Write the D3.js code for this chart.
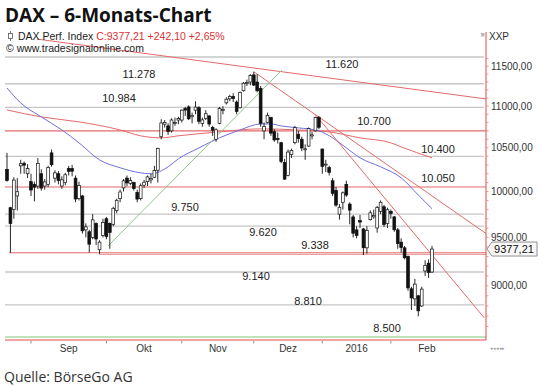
<!DOCTYPE html>
<html>
<head>
<meta charset="utf-8">
<style>
  body { margin: 0; background: #fff; }
  text { font-family: "Liberation Sans", Arial, sans-serif; }
</style>
</head>
<body>
<svg id="chart" width="540" height="386"></svg>

<script src="https://d3js.org/d3.v7.min.js"></script>
<script>
// DAX daily candles, 21 Aug 2015 .. 17 Feb 2016 (trading-day index 0..124)
var opens = [10250,9820,9800,9950,10290,10320,10200,10110,10080,10060,10200,10060,10080,10440,10150,10200,10060,10100,10260,10260,
  10150,9920,9950,9580,9560,9500,9650,9370,9520,9700,9650,9640,9790,9920,10040,10150,10090,10100,9990,9920,
  10070,10110,10130,10160,10240,10630,10780,10760,10700,10790,10830,10830,10970,10990,10870,10950,10980,10790,10850,10880,
  10740,10600,10790,10950,11040,11090,11120,11050,10980,11190,11280,11300,11390,11300,11220,10700,10800,10860,10690,10610,
  10560,10330,10180,10420,10560,10660,10600,10480,10520,10640,10700,10860,10485,10300,10270,10120,10010,9750,9880,10080,
  9860,9720,9580,9680,9590,9390,9690,9720,9600,9780,9830,9650,9780,9720,9580,9450,9390,9300,8970,8870,
  8900,8800,9150,9230,9140];
var highs = [10440,9830,10160,10150,10360,10340,10310,10200,10110,10380,10250,10140,10290,10480,10240,10230,10170,10210,10290,10300,
  10180,10110,9960,9650,9580,9750,9660,9470,9700,9720,9660,9830,9920,10020,10140,10180,10160,10110,10020,10090,
  10130,10180,10200,10290,10500,10840,10830,10790,10850,10860,10870,10960,10990,11010,10920,11060,11000,10860,10950,10890,
  10760,10730,10990,11000,11110,11140,11160,11070,11180,11300,11330,11400,11430,11400,11250,10800,10920,10870,10720,10680,
  10570,10370,10480,10490,10760,10700,10630,10540,10740,10690,10870,10880,10490,10360,10290,10150,10050,9860,10000,10120,
  9880,9740,9620,9740,9600,9620,9790,9800,9840,9900,9850,9820,9800,9730,9600,9490,9410,9310,8990,9070,
  8910,8990,9260,9270,9410];
var lows = [10110,9338,9700,9790,10200,10200,10150,9950,9890,10030,10010,10020,10050,10280,10100,10080,10030,10070,10180,10170,
  9880,9900,9540,9500,9340,9480,9420,9325,9500,9480,9380,9620,9760,9880,10000,10060,10070,10010,9880,9900,
  10040,10060,10090,10150,10100,10600,10740,10650,10680,10760,10780,10800,10880,10830,10790,10900,10780,10750,10830,10750,
  10640,10570,10780,10900,11020,11060,11050,10900,10970,11180,11250,11260,11250,11170,10750,10600,10790,10640,10570,10550,
  10320,10130,10170,10380,10540,10560,10460,10360,10510,10600,10690,10720,10200,10220,10180,9950,9830,9690,9800,9940,
  9640,9500,9490,9600,9314,9330,9680,9700,9550,9750,9610,9600,9700,9560,9380,9340,9270,8950,8760,8800,
  8699,8790,9100,9080,9130];
var closes = [10124,9648,10128,9997,10315,10298,10259,10016,10048,10318,10038,10108,10271,10303,10210,10123,10131,10188,10227,10229,
  9916,10066,9570,9612,9428,9688,9483,9450,9660,9509,9553,9814,9902,9994,10119,10096,10124,10033,9915,10064,
  10104,10164,10147,10238,10492,10795,10801,10692,10831,10800,10850,10950,10951,10845,10887,10988,10815,10832,10907,10782,
  10708,10713,10971,10959,11085,11119,11092,10933,11170,11285,11293,11382,11261,11190,10789,10752,10886,10673,10592,10598,
  10340,10139,10450,10470,10738,10608,10497,10488,10727,10653,10860,10743,10283,10310,10214,9979,9849,9825,9985,9960,
  9794,9545,9521,9664,9391,9574,9764,9736,9822,9880,9639,9798,9757,9581,9434,9393,9286,8979,8879,9017,
  8752,8967,9206,9135,9377.21];

// moving averages
var blueMaIdx = [0, 4, 10, 16, 21, 27, 33, 39, 42, 47, 50, 56, 62, 68, 74, 77, 80, 85, 91, 95, 99, 103, 109, 115, 120, 124];
var blueMaVal = [11225, 11039, 10868, 10711, 10558, 10359, 10268, 10210, 10199, 10279, 10371, 10498, 10617, 10711, 10783, 10783, 10759, 10736, 10700, 10617, 10498, 10383, 10279, 10154, 9960, 9809];
var redMaIdx = [0, 10, 21, 33, 39, 45, 50, 62, 74, 85, 94, 103, 112, 115, 124];
var redMaVal = [10953, 10868, 10808, 10711, 10641, 10617, 10641, 10688, 10724, 10711, 10688, 10617, 10558, 10510, 10383];

// horizontal levels
var grayLevels = [11620, 11278, 10984, 10400, 9750, 9620, 9140, 8810];
var redLevels = [10700, 10050];
var supportLevels = [9338, 9322];
var supportStart = [0.6, 27];
var bottomLevel = 8500;
var labelLevels = [11620, 11278, 10984, 10700, 10400, 10050, 9750, 9620, 9338, 9140, 8810, 8500];

// drawn trend lines [index, value] -> [index, value]
var redTrendFrom = [[8.75, 11855], [72, 11430], [89.9, 10900]];
var redTrendTo = [[139.8, 11088], [139.8, 9540], [139.2, 8685]];
var greenTrendFrom = [29.5, 9410];
var greenTrendTo = [80.2, 11452];

// axes
var monthStarts = [7, 29, 51, 72, 92, 112, 133];
var monthLabels = ["Sep", "Okt", "Nov", "Dez", "2016", "Feb"];
var priceTicks = [9000, 9500, 10000, 10500, 11000, 11500];
var lastPrice = 9377.21;

var de = d3.formatLocale({ decimal: ",", thousands: ".", grouping: [3], currency: ["", "€"] });
var fmtLevel = de.format(",");
var fmtAxis = de.format(".2f");

var svg = d3.select("#chart");
var plotL = 5, plotR = 486, plotT = 30, plotB = 340;

var x = d3.scaleLinear().domain([0, 124]).range([7, 432]);
var y = d3.scaleLog().domain([8500, 11620]).range([337, 57]);

svg.append("clipPath").attr("id", "plot")
  .append("rect").attr("x", plotL).attr("y", plotT).attr("width", plotR - plotL).attr("height", plotB - plotT);

var g = svg.append("g").attr("clip-path", "url(#plot)");

// gray levels
g.selectAll(".gl").data(grayLevels).enter().append("line")
  .attr("x1", plotL).attr("x2", plotR - 2)
  .attr("y1", function (d) { return y(d) }).attr("y2", function (d) { return y(d) })
  .attr("stroke", "#c6c6c6").attr("stroke-width", 1.4);

// red levels
g.selectAll(".rl").data(redLevels).enter().append("line")
  .attr("x1", plotL).attr("x2", plotR)
  .attr("y1", function (d) { return y(d) }).attr("y2", function (d) { return y(d) })
  .attr("stroke", "#e46a6a").attr("stroke-width", 1.1);

g.selectAll(".sl").data(supportLevels).enter().append("line")
  .attr("x1", function (d, i) { return x(supportStart[i]) }).attr("x2", plotR)
  .attr("y1", function (d) { return y(d) }).attr("y2", function (d) { return y(d) })
  .attr("stroke", function (d, i) { return i == 0 ? "#e46a6a" : "#eba0a0" }).attr("stroke-width", 1.1);

// green bottom level
g.append("line")
  .attr("x1", plotL).attr("x2", plotR)
  .attr("y1", y(bottomLevel)).attr("y2", y(bottomLevel))
  .attr("stroke", "#a9d8a9").attr("stroke-width", 1.6);

// moving averages
var maLine = d3.line().curve(d3.curveMonotoneX)
  .x(function (d) { return x(d[0]) }).y(function (d) { return y(d[1]) });
g.append("path").datum(redMaIdx.map(function (d, i) { return [d, redMaVal[i]] }))
  .attr("d", maLine).attr("fill", "none").attr("stroke", "#e46a6a").attr("stroke-width", 1);
g.append("path").datum(blueMaIdx.map(function (d, i) { return [d, blueMaVal[i]] }))
  .attr("d", maLine).attr("fill", "none").attr("stroke", "#6f6fe0").attr("stroke-width", 1);

// trend lines
g.selectAll(".tr").data(redTrendFrom).enter().append("line")
  .attr("x1", function (d) { return x(d[0]) }).attr("y1", function (d) { return y(d[1]) })
  .attr("x2", function (d, i) { return x(redTrendTo[i][0]) }).attr("y2", function (d, i) { return y(redTrendTo[i][1]) })
  .attr("stroke", "#e46a6a").attr("stroke-width", 1);
g.append("line")
  .attr("x1", x(greenTrendFrom[0])).attr("y1", y(greenTrendFrom[1]))
  .attr("x2", x(greenTrendTo[0])).attr("y2", y(greenTrendTo[1]))
  .attr("stroke", "#8cc88c").attr("stroke-width", 1);

// candles
var idx = d3.range(closes.length);
g.selectAll(".wick").data(idx).enter().append("line")
  .attr("x1", function (i) { return x(i) }).attr("x2", function (i) { return x(i) })
  .attr("y1", function (i) { return y(highs[i]) }).attr("y2", function (i) { return y(lows[i]) })
  .attr("stroke", "#111").attr("stroke-width", 0.9);
g.selectAll(".body").data(idx).enter().append("rect")
  .attr("x", function (i) { return x(i) - 1.4 })
  .attr("width", 2.8)
  .attr("y", function (i) { return y(Math.max(opens[i], closes[i])) })
  .attr("height", function (i) { return Math.max(1, Math.abs(y(opens[i]) - y(closes[i]))) })
  .attr("fill", function (i) { return closes[i] >= opens[i] ? "#fff" : "#111" })
  .attr("stroke", "#111").attr("stroke-width", 0.7);

// level labels
var labelX = [342, 139, 119, 374, 438, 438, 185, 263, 315, 256, 308, 387];
var labelDy = [-7, 9, 9, 9, 7, 8, 7, -6, 7, -5, 3, 9];
svg.selectAll(".lv").data(labelLevels).enter().append("text")
  .attr("x", function (d, i) { return labelX[i] })
  .attr("y", function (d, i) { return y(d) - labelDy[i] + 3.5 })
  .attr("text-anchor", "middle").attr("font-size", 11).attr("fill", "#222")
  .text(function (d) { return fmtLevel(d) });

// right axis
svg.append("line").attr("x1", plotR).attr("x2", plotR).attr("y1", 32).attr("y2", plotB)
  .attr("stroke", "#e04848").attr("stroke-width", 1);
svg.selectAll(".mt").data(d3.range(8600, 11700, 100)).enter().append("line")
  .attr("x1", plotR).attr("x2", plotR + 2.5)
  .attr("y1", function (d) { return y(d) }).attr("y2", function (d) { return y(d) })
  .attr("stroke", "#e88080").attr("stroke-width", 0.8);
svg.selectAll(".pt").data(priceTicks).enter().append("text")
  .attr("x", 491).attr("y", function (d) { return y(d) + 3.5 })
  .attr("font-size", 10).attr("fill", "#333")
  .text(function (d) { return fmtAxis(d) });

// last price box
var py = y(lastPrice);
svg.append("path")
  .attr("d", "M487," + py + "L492," + (py - 7) + "L537," + (py - 7) + "L537," + (py + 7) + "L492," + (py + 7) + "Z")
  .attr("fill", "#f7f7f7").attr("stroke", "#777").attr("stroke-width", 0.8);
svg.append("text").attr("x", 514).attr("y", py + 4)
  .attr("text-anchor", "middle").attr("font-size", 11).attr("fill", "#111")
  .text(fmtAxis(lastPrice));

// bottom axis
svg.append("line").attr("x1", plotL).attr("x2", plotR).attr("y1", plotB).attr("y2", plotB)
  .attr("stroke", "#e04848").attr("stroke-width", 1);
svg.selectAll(".xt").data(monthStarts.slice(0, 6)).enter().append("line")
  .attr("x1", function (d) { return x(d) }).attr("x2", function (d) { return x(d) })
  .attr("y1", plotB + 1).attr("y2", plotB + 3.5)
  .attr("stroke", "#888").attr("stroke-width", 1);
svg.selectAll(".xl").data(monthLabels).enter().append("text")
  .attr("x", function (d, i) { return x((monthStarts[i] + monthStarts[i + 1]) / 2) })
  .attr("y", 352).attr("text-anchor", "middle").attr("font-size", 10).attr("fill", "#333")
  .text(function (d) { return d });
svg.append("text").attr("x", 490).attr("y", 350).attr("font-size", 5).attr("fill", "#999").text("◂◂◂◂▸");

// header
svg.append("text").attr("x", 5).attr("y", 22)
  .style("font-family", "'Open Sans', sans-serif").attr("font-weight", 700).attr("font-size", 19).attr("fill", "#111")
  .text("DAX – 6-Monats-Chart");
svg.append("line").attr("x1", 10.5).attr("x2", 10.5).attr("y1", 31).attr("y2", 41).attr("stroke", "#555").attr("stroke-width", 0.8);
svg.append("rect").attr("x", 8.5).attr("y", 33.5).attr("width", 4).attr("height", 5).attr("fill", "#fff").attr("stroke", "#555").attr("stroke-width", 0.8);
var sub = svg.append("text").attr("x", 18).attr("y", 39.5).attr("font-size", 10.5).attr("fill", "#222");
sub.append("tspan").text("DAX Perf. Index ");
sub.append("tspan").attr("fill", "#e03030").text("C:" + fmtAxis(lastPrice) + " +242,10 +2,65%");
svg.append("text").attr("x", 6).attr("y", 51.5).attr("font-size", 10.5).attr("fill", "#222")
  .text("© www.tradesignalonline.com");
svg.append("rect").attr("x", 481).attr("y", 33).attr("width", 3.5).attr("height", 3.5).attr("fill", "#bbb");
svg.append("text").attr("x", 489).attr("y", 40).attr("font-size", 10).attr("fill", "#333").text("XXP");

// source
svg.append("text").attr("x", 4).attr("y", 382)
  .style("font-family", "'Open Sans', sans-serif").attr("font-size", 14).attr("fill", "#333")
  .text("Quelle: BörseGo AG");
</script>
</body>
</html>
